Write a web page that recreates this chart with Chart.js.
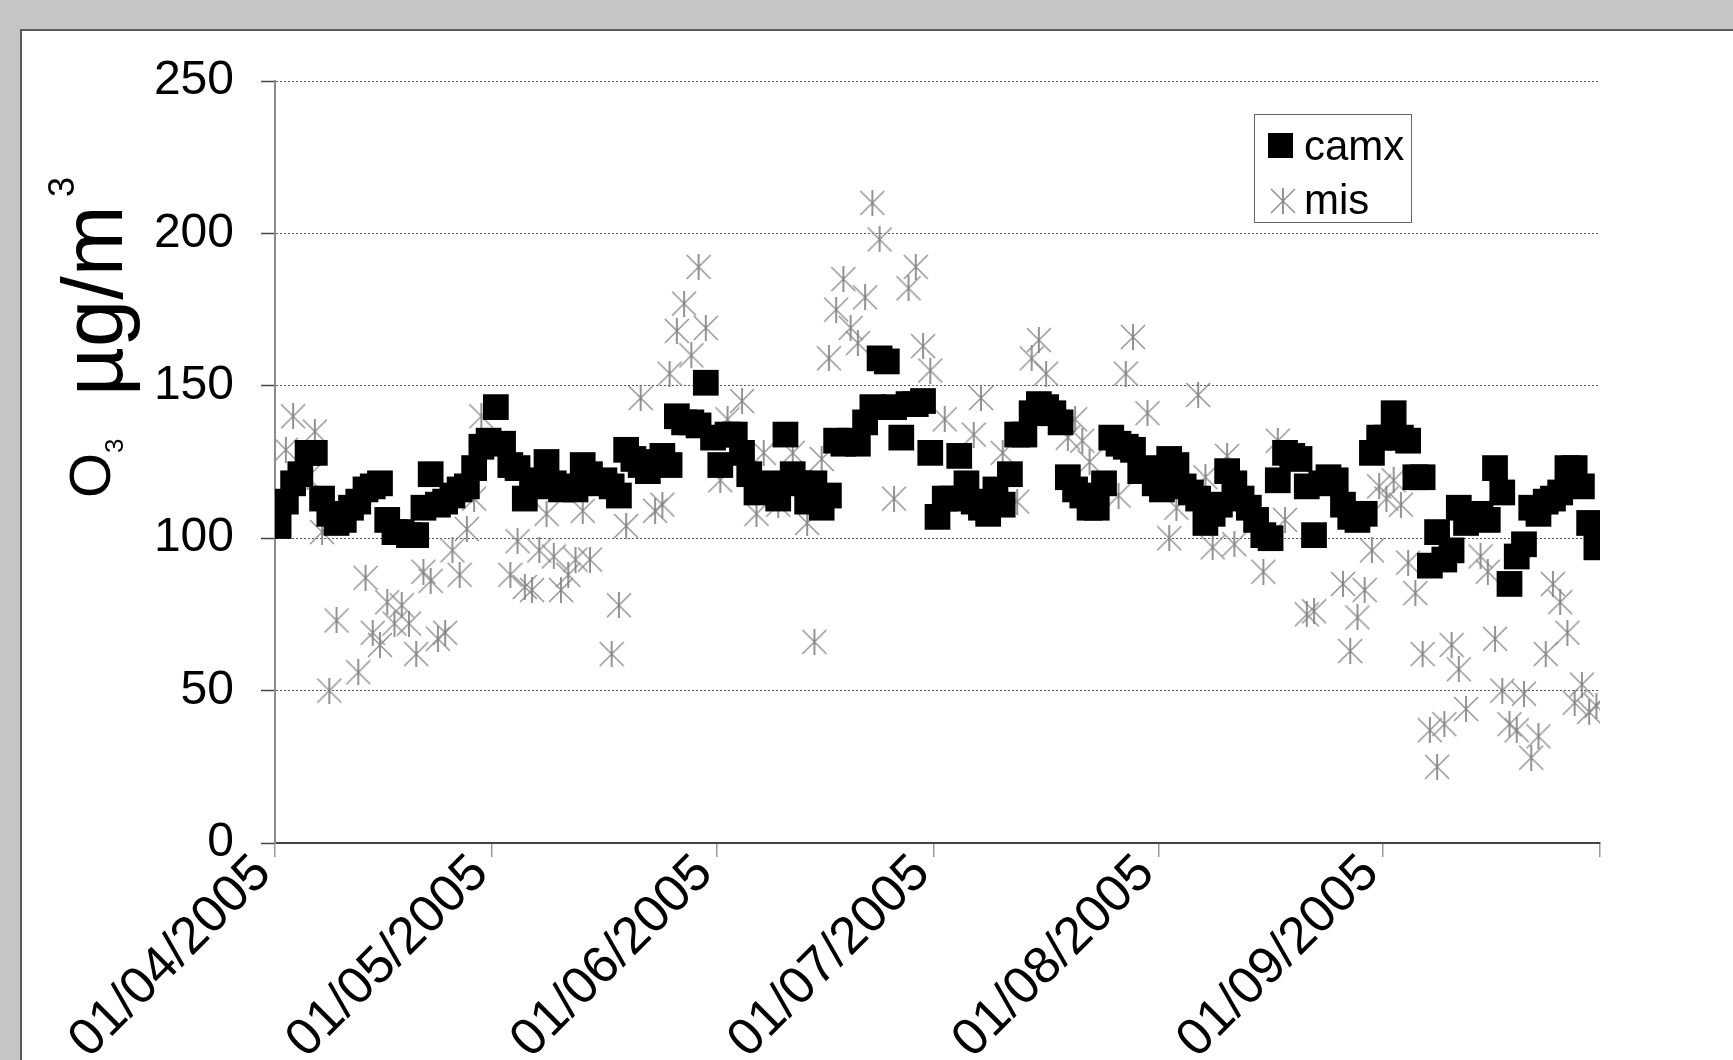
<!DOCTYPE html>
<html>
<head>
<meta charset="utf-8">
<script src="https://cdn.jsdelivr.net/npm/chart.js@4.4.1/dist/chart.umd.min.js"></script>
<style>
  html, body { margin: 0; padding: 0; background: #c4c5c4; overflow: hidden; }
  #panel { position: absolute; left: 20px; top: 29px; width: 1800px; height: 1100px; background: #fff; border: 2px solid #5a5a5a; }
  #chart { position: absolute; left: 0; top: 0; }
</style>
</head>
<body>
<div id="panel"></div>
<canvas id="chart" width="1733" height="1060"></canvas>
<script>
// month ticks of the date axis (01/04/2005 .. 01/10/2005)
const monthLabels = ['01/04/2005', '01/05/2005', '01/06/2005', '01/07/2005', '01/08/2005', '01/09/2005'];
const monthLengths = [30, 31, 30, 31, 31, 30];

// daily O3, camx model (ug/m3)
const camxApr = [104,112,118,121,128,128,113,108,105,106,110,112,116,117,118,106,102,102,101,101,110,121,111,112,114,116,117,123,130,132];
const camxMay = [143,131,124,123,113,119,117,125,118,116,117,116,124,121,118,119,117,114,129,126,124,122,125,127,124,140,138,138,137,151,133];
const camxJun = [124,134,134,128,121,115,116,118,113,134,121,118,112,118,110,114,132,131,132,131,138,143,159,158,143,133,144,144,145,128];
const camxJul = [107,113,113,127,118,112,110,108,116,111,121,134,134,141,144,143,141,138,120,116,114,110,110,118,133,131,130,129,122,123,118];
const camxAug = [116,126,124,117,115,113,105,108,111,122,118,113,110,106,101,100,119,128,127,126,117,101,118,120,119,111,107,106,108,128,133];
const camxSep = [133,141,133,132,120,120,91,102,93,96,110,105,107,108,106,123,115,85,94,98,110,108,112,113,115,123,123,117,105,97];

// daily O3, measured (null = not visible)
const misApr = [null,129,140,null,120,135,102,50,73,null,null,56,87,69,65,79,72,78,72,62,89,86,67,69,96,88,103,113,140,null];
const misMay = [null,null,88,99,84,83,96,108,94,83,88,93,109,93,null,null,62,78,104,null,146,null,109,111,154,168,177,160,189,169,null];
const misJun = [119,139,null,145,null,108,128,null,111,null,128,null,105,66,126,159,175,185,169,164,179,210,198,null,113,null,182,189,163,155];
const misJul = [null,139,null,null,null,134,146,null,null,128,null,112,null,159,165,154,null,null,133,139,132,125,null,null,null,114,154,166,null,141,null];
const misAug = [null,100,110,null,null,147,120,97,null,127,98,null,null,null,89,null,132,106,null,null,75,76,null,null,null,85,63,74,83,96,117];
const misSep = [113,119,111,92,82,62,37,25,39,65,57,44,null,94,89,67,50,39,37,49,28,35,62,85,79,69,46,52,43,45];

const camx = [].concat(camxApr, camxMay, camxJun, camxJul, camxAug, camxSep);
const mis = [].concat(misApr, misMay, misJun, misJul, misAug, misSep);

const monthStarts = [0];
monthLengths.forEach(n => monthStarts.push(monthStarts[monthStarts.length - 1] + n));

const toPoints = arr => arr.map((v, i) => ({ x: i + 0.5, y: v }));

const FONT = '"Liberation Sans", Arial, sans-serif';
Chart.defaults.font.family = FONT;
Chart.defaults.color = '#000';

// asterisk marker like the excel one
const star = document.createElement('canvas');
star.width = 26;
star.height = 26;
(function () {
  const c = star.getContext('2d');
  c.strokeStyle = '#8a8a8a';
  c.lineWidth = 1.3;
  c.beginPath();
  c.moveTo(1, 1); c.lineTo(25, 25);
  c.moveTo(25, 1); c.lineTo(1, 25);
  c.stroke();
  c.strokeStyle = '#808080';
  c.lineWidth = 1.7;
  c.beginPath();
  c.moveTo(13, 0); c.lineTo(13, 26);
  c.stroke();
})();

const yTitle = {
  id: 'yTitle',
  afterDraw(chart) {
    const ctx = chart.ctx;
    ctx.save();
    ctx.rotate(-Math.PI / 2);
    ctx.fillStyle = '#000';
    ctx.textAlign = 'left';
    ctx.textBaseline = 'alphabetic';
    ctx.font = '58px ' + FONT;
    ctx.fillText('O', -498, 110);
    ctx.font = '26px ' + FONT;
    ctx.fillText('3', -453, 123);
    ctx.font = '85px ' + FONT;
    ctx.fillText('µg/m', -396, 122);
    ctx.font = '36px ' + FONT;
    ctx.fillText('3', -197, 74);
    ctx.restore();
  }
};

const legendBox = {
  id: 'legendBox',
  afterDatasetsDraw(chart) {
    const ctx = chart.ctx;
    ctx.save();
    ctx.fillStyle = '#fff';
    ctx.fillRect(1254, 114, 157, 108);
    ctx.strokeStyle = '#666';
    ctx.lineWidth = 1;
    ctx.strokeRect(1254.5, 114.5, 157, 108);
    ctx.fillStyle = '#000';
    ctx.fillRect(1268, 133, 25, 25);
    ctx.drawImage(star, 1270, 188);
    ctx.font = '42px ' + FONT;
    ctx.textBaseline = 'alphabetic';
    ctx.fillText('camx', 1304, 160);
    ctx.fillText('mis', 1304, 214);
    ctx.restore();
  }
};

new Chart(document.getElementById('chart'), {
  type: 'scatter',
  data: {
    datasets: [
      {
        label: 'camx',
        data: toPoints(camx),
        pointStyle: 'rect',
        pointRadius: 18.2,
        pointHoverRadius: 18.2,
        backgroundColor: '#000',
        borderColor: '#000',
        borderWidth: 0
      },
      {
        label: 'mis',
        data: toPoints(mis),
        pointStyle: star,
        pointRadius: 13,
        backgroundColor: '#888',
        borderColor: '#888'
      }
    ]
  },
  options: {
    responsive: false,
    animation: false,
    devicePixelRatio: 1,
    layout: { padding: { left: 0, top: 81, right: 133, bottom: 0 } },
    plugins: {
      legend: { display: false },
      tooltip: { enabled: false }
    },
    scales: {
      x: {
        type: 'linear',
        min: 0,
        max: 183,
        afterBuildTicks: axis => { axis.ticks = monthStarts.map(v => ({ value: v })); },
        afterFit: axis => { axis.height = 217; },
        ticks: {
          autoSkip: false,
          maxRotation: 45,
          minRotation: 45,
          padding: -14,
          labelOffset: -12,
          font: { size: 52 },
          color: '#000',
          callback: value => {
            const k = monthStarts.indexOf(value);
            return k >= 0 && k < monthLabels.length ? monthLabels[k] : '';
          }
        },
        grid: { drawOnChartArea: false, drawTicks: true, tickLength: 14, color: '#999', lineWidth: 1.5 },
        border: { color: '#444', width: 2 }
      },
      y: {
        min: 0,
        max: 250,
        afterFit: axis => { axis.width = 275; },
        ticks: { stepSize: 50, padding: 27, font: { size: 48 }, color: '#000' },
        grid: { color: '#555', lineWidth: 1, drawTicks: true, tickLength: 14, tickColor: '#444', tickWidth: 1.5 },
        border: { color: '#8c8c8c', width: 2, dash: [2, 2] }
      }
    }
  },
  plugins: [yTitle, legendBox]
});
</script>
</body>
</html>
